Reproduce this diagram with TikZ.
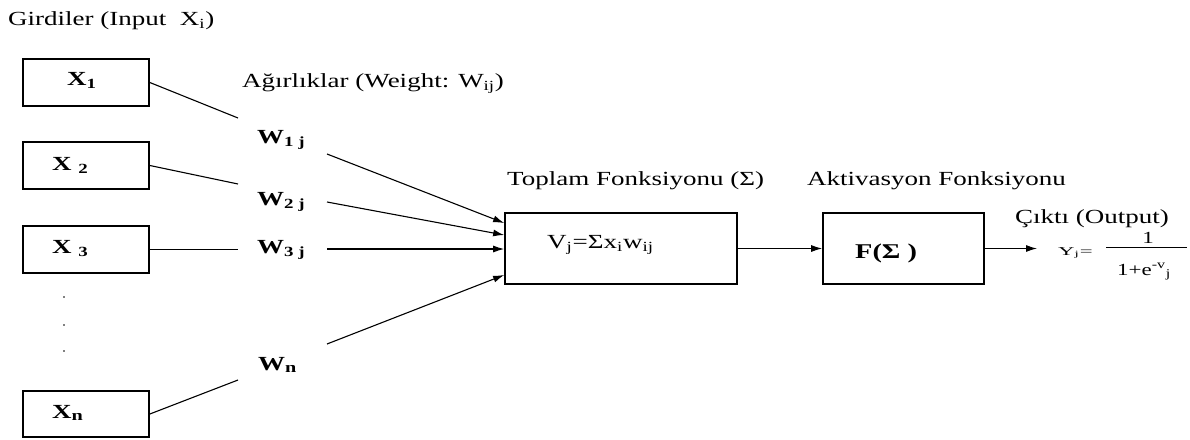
\documentclass[tikz,border=0pt]{standalone}
\usepackage{fontspec}
\setmainfont{Liberation Serif}
\usetikzlibrary{arrows.meta}
\newcommand{\sx}[1]{\scalebox{1.35}[1]{#1}}
\tikzset{
  lbl/.style={inner sep=0pt, anchor=base west, font=\fontsize{20}{24}\selectfont},
  blbl/.style={lbl, font=\fontsize{20}{24}\selectfont\bfseries},
  box/.style={draw, line width=1.7pt, inner sep=0pt},
  wire/.style={line width=1.1pt},
  arr/.style={wire, -{Latex[length=11pt,width=7pt]}},
  dotmark/.style={circle, fill, inner sep=0pt, minimum size=1.6pt}
}
\begin{document}
\begin{tikzpicture}[x=1pt,y=-1pt]
\useasboundingbox (0,0) rectangle (1190,439);
% titles
\node[lbl] (tin) at (8,25) {\sx{Girdiler (Input \ X\textsubscript{i})}};
\node[lbl] (tw) at (242,87) {\sx{Ağırlıklar (Weight: W\textsubscript{ij})}};
\node[lbl] (ts) at (507,185) {\sx{Toplam Fonksiyonu (Σ)}};
\node[lbl] (ta) at (807,185) {\sx{Aktivasyon Fonksiyonu}};
\node[lbl] (to) at (1015,223) {\sx{Çıktı (Output)}};
% input boxes
\node[box, minimum width=126pt, minimum height=47pt] (x1) at (86,82.5) {};
\node[box, minimum width=126pt, minimum height=47pt] (x2) at (86,165.5) {};
\node[box, minimum width=126pt, minimum height=47pt] (x3) at (86,249.5) {};
\node[box, minimum width=126pt, minimum height=46pt] (xn) at (86,414) {};
\node[blbl] (lx1) at (67,85) {\sx{X\textsubscript{1}}};
\node[blbl] (lx2) at (52,170) {\sx{X \textsubscript{2}}};
\node[blbl] (lx3) at (52,253) {\sx{X \textsubscript{3}}};
\node[blbl] (lxn) at (52,418) {\sx{X\raisebox{-2pt}{\fontsize{15}{18}\selectfont n}}};
% dots
\node[dotmark] (d1) at (64,297) {};
\node[dotmark] (d2) at (64,325) {};
\node[dotmark] (d3) at (64,351) {};
% weights
\node[blbl] (w1) at (257,143) {\sx{W\textsubscript{1 j}}};
\node[blbl] (w2) at (257,205) {\sx{W\textsubscript{2 j}}};
\node[blbl] (w3) at (257,253) {\sx{W\textsubscript{3 j}}};
\node[blbl] (wn) at (258,370) {\sx{W\raisebox{-2pt}{\fontsize{15}{18}\selectfont n}}};
\coordinate (w1i) at (238,118);
\coordinate (w2i) at (238,184);
\coordinate (w3i) at (238,249.5);
\coordinate (wni) at (238,380);
\coordinate (w1o) at (327,154);
\coordinate (w2o) at (327,202);
\coordinate (w3o) at (327,249);
\coordinate (wno) at (327,344);
% sum and activation boxes
\node[box, minimum width=232pt, minimum height=71pt] (s) at (621,248.5) {};
\node[lbl] (st) at (547,248) {\sx{V\textsubscript{j}=Σx\textsubscript{i}w\textsubscript{ij}}};
\node[box, minimum width=161pt, minimum height=71pt] (f) at (903.5,248.5) {};
\node[blbl, font=\fontsize{21}{25}\selectfont\bfseries] (ft) at (855,258) {\sx{F(Σ )}};
% input wires
\draw[wire] (x1.east) -- (w1i);
\draw[wire] (x2.east) -- (w2i);
\draw[wire] (x3.east) -- (w3i);
\draw[wire] (xn.east) -- (wni);
% arrows into sum
\draw[arr] (w1o) -- (s.west |- 0,223);
\draw[arr] (w2o) -- (s.west |- 0,235);
\draw[arr] (w3o) -- (s.west |- 0,249);
\draw[arr] (wno) -- (s.west |- 0,275);
\draw[arr] (s.east) -- (f.west);
\coordinate (yout) at (1037,248.5);
\draw[arr] (f.east) -- (yout);
% output formula
\node[lbl, font=\fontsize{12}{14}\selectfont] (yj) at (1058,255) {\scalebox{1.9}[1]{Y\textsubscript{j}=}};
\node[inner sep=0pt, anchor=base, font=\fontsize{17}{20}\selectfont] (num) at (1148,243) {\sx{1}};
\draw[line width=0.9pt] (1106,247) -- (1187,247);
\node[lbl, font=\fontsize{17}{20}\selectfont] (den) at (1117,275) {\sx{1+e\textsuperscript{-v}\textsubscript{j}}};
\end{tikzpicture}
\end{document}
